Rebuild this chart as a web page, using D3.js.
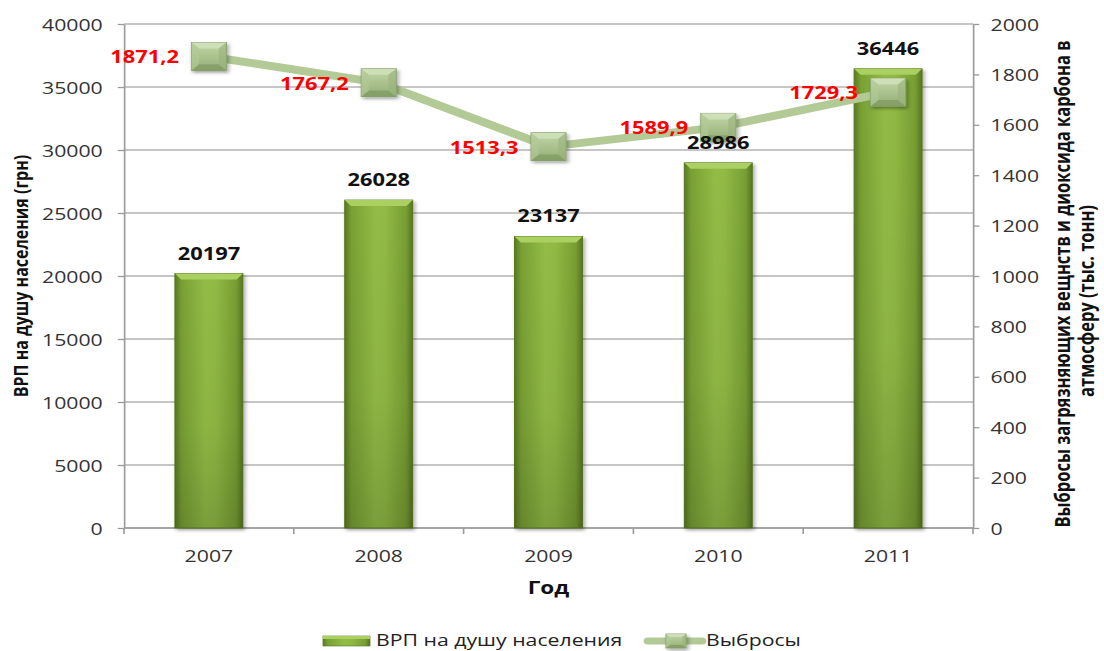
<!DOCTYPE html>
<html><head><meta charset="utf-8">
<script src="https://cdn.jsdelivr.net/npm/d3@7/dist/d3.min.js"></script>
<style>
html,body{margin:0;padding:0;background:#fff;}
svg{display:block;}
text{font-family:"Open Sans","DejaVu Sans",sans-serif;}
</style></head>
<body>
<svg id="chart" width="1104" height="651"></svg>
<script>
const years = ["2007","2008","2009","2010","2011"];
const grp = [20197, 26028, 23137, 28986, 36446];
const emissions = [1871.2, 1767.2, 1513.3, 1589.9, 1729.3];
const emissionLabels = ["1871,2","1767,2","1513,3","1589,9","1729,3"];
const leftTicks = [0,5000,10000,15000,20000,25000,30000,35000,40000];
const rightTicks = [0,200,400,600,800,1000,1200,1400,1600,1800,2000];
const leftTitle = "ВРП на душу населения (грн)";
const rightTitle1 = "Выбросы загрязняющих вещнств и диоксида карбона в";
const rightTitle2 = "атмосферу (тыс. тонн)";
const xTitle = "Год";
const legendBar = "ВРП на душу населения";
const legendLine = "Выбросы";

const SX = 1.25; // horizontal stretch of the original picture
const svg = d3.select("#chart");
const defs = svg.append("defs");

const bg = defs.append("linearGradient").attr("id","barG").attr("x1","0").attr("x2","1").attr("y1","0").attr("y2","0");
[["0%","#5a7a22"],["10%","#78a034"],["45%","#92bc46"],["60%","#90b944"],["90%","#779e33"],["100%","#577620"]]
  .forEach(s=>bg.append("stop").attr("offset",s[0]).attr("stop-color",s[1]));
const bv = defs.append("linearGradient").attr("id","barV").attr("x1","0").attr("x2","0").attr("y1","0").attr("y2","1");
[["0%","#000",0],["60%","#000",0.04],["100%","#000",0.16]]
  .forEach(s=>bv.append("stop").attr("offset",s[0]).attr("stop-color",s[1]).attr("stop-opacity",s[2]));
const mg = defs.append("linearGradient").attr("id","mkG").attr("x1","0").attr("x2","0").attr("y1","0").attr("y2","1");
[["0%","#c3d7a9"],["100%","#93ae74"]].forEach(s=>mg.append("stop").attr("offset",s[0]).attr("stop-color",s[1]));
const f = defs.append("filter").attr("id","shadow").attr("x","-30%").attr("y","-30%").attr("width","160%").attr("height","160%");
f.append("feDropShadow").attr("dx",1.5).attr("dy",2).attr("stdDeviation",1.5).attr("flood-color","#000").attr("flood-opacity",0.35);

const g = svg.append("g").attr("transform",`scale(${SX},1)`);

const x0 = 124/SX, x1 = 973/SX, yTop = 24, yBot = 528;
const x = d3.scaleBand().domain(years).range([x0,x1]).paddingInner(0.6).paddingOuter(0.3);
const yL = d3.scaleLinear().domain([0,40000]).range([yBot,yTop]);
const yR = d3.scaleLinear().domain([0,2000]).range([yBot,yTop]);

// gridlines
g.append("g").selectAll("line").data(leftTicks).join("line")
  .attr("x1",x0).attr("x2",x1).attr("y1",d=>yL(d)).attr("y2",d=>yL(d))
  .attr("stroke","#b3b3b3").attr("stroke-width",1.3);

// left axis
const la = g.append("g").attr("transform",`translate(${x0},0)`)
  .call(d3.axisLeft(yL).tickValues(leftTicks).tickFormat(d3.format("d")).tickSize(5).tickPadding(12).tickSizeOuter(0));
// right axis
const ra = g.append("g").attr("transform",`translate(${x1},0)`)
  .call(d3.axisRight(yR).tickValues(rightTicks).tickFormat(d3.format("d")).tickSize(5).tickPadding(9).tickSizeOuter(0));
[la,ra].forEach(a=>{
  a.select(".domain").attr("stroke","#9a9a9a").attr("stroke-width",1.3);
  a.selectAll(".tick line").attr("stroke","#9a9a9a").attr("stroke-width",1.3);
  a.selectAll(".tick text").attr("font-size",17).attr("fill","#333").attr("dy","0.36em");
});

// bottom axis
const step = x.step();
const bounds = d3.range(years.length+1).map(i=>x0 + i*step);
g.append("line").attr("x1",x0).attr("x2",x1).attr("y1",yBot).attr("y2",yBot).attr("stroke","#9a9a9a").attr("stroke-width",1.3);
g.append("g").selectAll("line").data(bounds).join("line")
  .attr("x1",d=>d).attr("x2",d=>d).attr("y1",yBot).attr("y2",yBot+6)
  .attr("stroke","#9a9a9a").attr("stroke-width",1.3);
g.append("g").selectAll("text").data(years).join("text")
  .attr("x",d=>x(d)+x.bandwidth()/2).attr("y",yBot+34).attr("text-anchor","middle")
  .attr("font-size",17).attr("fill","#333").text(d=>d);

// bars
const bars = g.append("g");
years.forEach((yr,i)=>{
  const bx = x(yr), bw = x.bandwidth(), by = yL(grp[i]), bh = yBot - by;
  bars.append("rect").attr("x",bx).attr("y",by).attr("width",bw).attr("height",bh)
    .attr("fill","url(#barG)").attr("stroke","#56751f").attr("stroke-width",0.8).attr("filter","url(#shadow)");
  bars.append("rect").attr("x",bx).attr("y",by).attr("width",bw).attr("height",bh).attr("fill","url(#barV)");
  const ins = 5, ch = 6;
  bars.append("polygon")
    .attr("points",`${bx},${by} ${bx+bw},${by} ${bx+bw-ins},${by+ch} ${bx+ins},${by+ch}`)
    .attr("fill","#a9d060");
});

// line
const cx = d=>x(d)+x.bandwidth()/2;
const line = d3.line().x((d,i)=>cx(years[i])).y(d=>yR(d));
g.append("path").datum(emissions).attr("d",line).attr("fill","none")
  .attr("stroke","#b3ca96").attr("stroke-width",8).attr("stroke-linejoin","round");

function marker(sel, mx, my, w, h){
  const b = Math.min(w,h)*0.22;
  const l=mx-w/2, r=mx+w/2, t=my-h/2, bo=my+h/2;
  const m = sel.append("g").attr("filter","url(#shadow)");
  m.append("rect").attr("x",l).attr("y",t).attr("width",w).attr("height",h).attr("fill","url(#mkG)").attr("stroke","#879f6c").attr("stroke-width",0.8);
  m.append("polygon").attr("points",`${l},${t} ${r},${t} ${r-b},${t+b} ${l+b},${t+b}`).attr("fill","#d2e2bd").attr("opacity",0.8);
  m.append("polygon").attr("points",`${l},${bo} ${r},${bo} ${r-b},${bo-b} ${l+b},${bo-b}`).attr("fill","#7f9a60").attr("opacity",0.7);
  m.append("polygon").attr("points",`${l},${t} ${l+b},${t+b} ${l+b},${bo-b} ${l},${bo}`).attr("fill","#b2c998").attr("opacity",0.6);
  m.append("polygon").attr("points",`${r},${t} ${r-b},${t+b} ${r-b},${bo-b} ${r},${bo}`).attr("fill","#9ab37d").attr("opacity",0.6);
}
const mk = g.append("g");
emissions.forEach((v,i)=>{
  marker(mk, cx(years[i]), yR(v), 28, 28);
});

// bar value labels (drawn above markers)
g.append("g").selectAll("text").data(grp).join("text")
  .attr("x",(d,i)=>cx(years[i])).attr("y",d=>yL(d)-14).attr("text-anchor","middle")
  .attr("font-size",17.5).attr("font-weight","bold").attr("fill","#111").text(d=>d);

g.append("g").selectAll("text").data(emissions).join("text")
  .attr("x",(d,i)=>cx(years[i]) - 30/SX).attr("y",d=>yR(d)+7).attr("text-anchor","end")
  .attr("font-size",17.5).attr("font-weight","bold").attr("fill","#ff0000")
  .text((d,i)=>emissionLabels[i]);

// axis titles
g.append("text").attr("transform",`translate(${28/SX},${(yTop+yBot)/2 + 0}) rotate(-90)`)
  .attr("text-anchor","middle").attr("font-size",16).attr("font-weight","bold").attr("fill","#111").text(leftTitle);
g.append("text").attr("transform",`translate(${1070/SX},${284}) rotate(-90)`)
  .attr("text-anchor","middle").attr("font-size",16.5).attr("font-weight","bold").attr("fill","#111").text(rightTitle1);
g.append("text").attr("transform",`translate(${1094/SX},${301}) rotate(-90)`)
  .attr("text-anchor","middle").attr("font-size",16.5).attr("font-weight","bold").attr("fill","#111").text(rightTitle2);
g.append("text").attr("x",(x0+x1)/2).attr("y",594).attr("text-anchor","middle")
  .attr("font-size",18).attr("font-weight","bold").attr("fill","#111").text(xTitle);

// legend
const lg = g.append("g");
const lbx = 323/SX, lby = 636;
lg.append("rect").attr("x",lbx).attr("y",lby).attr("width",47/SX).attr("height",10).attr("fill","url(#barG)").attr("stroke","#56751f").attr("stroke-width",0.6);
lg.append("rect").attr("x",lbx).attr("y",lby).attr("width",47/SX).attr("height",3).attr("fill","#a9d060");
lg.append("text").attr("x",376/SX).attr("y",646).attr("font-size",17).attr("fill","#222").text(legendBar);
lg.append("line").attr("x1",648/SX).attr("x2",702/SX).attr("y1",641).attr("y2",641).attr("stroke","#b3ca96").attr("stroke-width",7).attr("stroke-linecap","round");
marker(lg, 676/SX, 641, 16, 14);
lg.append("text").attr("x",706/SX).attr("y",646).attr("font-size",17).attr("fill","#222").text(legendLine);
</script>
</body></html>
